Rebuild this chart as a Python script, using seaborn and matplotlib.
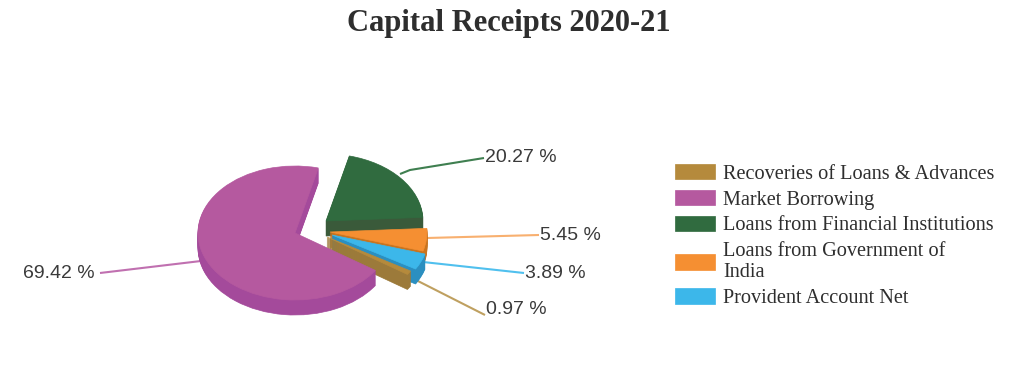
import matplotlib
matplotlib.use("Agg")
import matplotlib.pyplot as plt
import seaborn as sns

# --- data ---
categories = ["Recoveries of Loans & Advances", "Market Borrowing",
              "Loans from Financial Institutions",
              "Loans from Government of\nIndia", "Provident Account Net"]
shares = [0.97, 69.42, 20.27, 5.45, 3.89]
share_labels = ["0.97 %", "69.42 %", "20.27 %", "5.45 %", "3.89 %"]

# --- style ---
top_colors = ["#B58A3C", "#B5599F", "#306B3F", "#F58F32", "#3CB7EA"]
wall_colors = ["#9C7A3A", "#A44A9B", "#3A5A3A", "#C9741F", "#2B8FC0"]
line_colors = ["#BFA060", "#C070B0", "#3F7F50", "#F8B070", "#50C0EE"]

W, H = 1033, 382
K = 97 / 67            # vertical squash of the tilted pie
RADIUS = 97
DEPTH = 15
apex = [(327, 237), (295, 233), (326, 221), (330, 232), (332, 235)]
stack = [4, 5, 1, 2, 3]  # painter's order of slices


def Y(y):
    return (H - y) * K


sns.set_theme(style="white")
fig = plt.figure(figsize=(W / 100, H / 100), dpi=100)
ax = fig.add_axes([0, 0, 1, 1])

legend_handles = None
for d in range(DEPTH, -1, -1):
    colors = top_colors if d == 0 else wall_colors
    wedges, _ = ax.pie(shares, colors=colors, startangle=-30.5, counterclock=False,
                       radius=RADIUS, wedgeprops={"linewidth": 0.5})
    for i, w in enumerate(wedges):
        w.set_edgecolor(colors[i])
        w.set_center((apex[i][0], Y(apex[i][1] + d)))
        w.set_zorder(stack[i] * 100 + (DEPTH - d))
    if d == 0:
        legend_handles = wedges

ax.set_aspect("auto")
ax.set_xlim(0, W)
ax.set_ylim(0, H * K)
ax.axis("off")

# leader lines and labels
leaders = [
    [(412, 278), (485, 315)],
    [(201, 261), (100, 273)],
    [(400, 174), (410, 170), (484, 158)],
    [(427, 238), (539, 235)],
    [(423, 262), (524, 273)],
]
label_pos = [(486, 310), (23, 273), (485, 158), (540, 235), (525, 273)]
for i in range(len(shares)):
    xs = [p[0] for p in leaders[i]]
    ys = [Y(p[1]) for p in leaders[i]]
    ax.plot(xs, ys, color=line_colors[i], lw=1.5, zorder=50, solid_capstyle="butt")
    ax.text(label_pos[i][0], Y(label_pos[i][1]), share_labels[i], family="Liberation Sans",
            fontsize=14, color="#3A3A3A", ha="left", va="center")

fig.text(509 / W, 1 - 23 / H, "Capital Receipts 2020-21", family="Liberation Serif",
         fontweight="bold", fontsize=22, color="#2E2E2E", ha="center", va="center")

leg = fig.legend(legend_handles, categories, loc="upper left",
                 bbox_to_anchor=(671 / W, 1 - 160 / H), frameon=False,
                 prop={"family": "Liberation Serif", "size": 14.6},
                 handlelength=1.97, handleheight=0.79, handletextpad=0.4,
                 labelspacing=0.3, borderpad=0.2, borderaxespad=0)
for t in leg.get_texts():
    t.set_color("#2E2E2E")
    t.set_linespacing(1.2)

fig.savefig("out.png", dpi=100, facecolor="white")
